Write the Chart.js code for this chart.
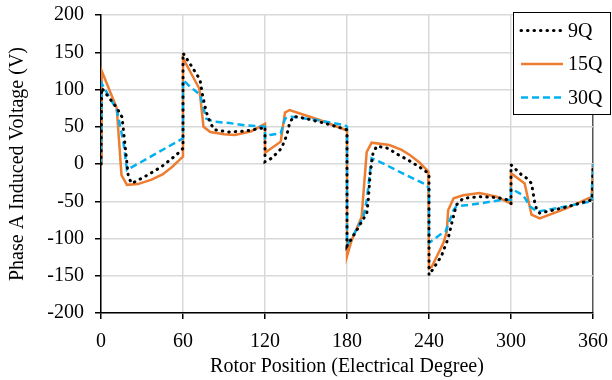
<!DOCTYPE html>
<html>
<head>
<meta charset="utf-8">
<script src="https://cdn.jsdelivr.net/npm/chart.js@4.4.0/dist/chart.umd.min.js"></script>
<style>
  html, body { margin: 0; padding: 0; background: #fff; }
</style>
</head>
<body>
<canvas id="chart" width="612" height="380"></canvas>
<script>
// axis ticks
const xTicks = [0, 60, 120, 180, 240, 300, 360];
const yTicks = [-200, -150, -100, -50, 0, 50, 100, 150, 200];

// 9Q
const angle9Q = [0, 0.5, 11.7, 15.4, 20, 22.4, 32, 44, 55, 60, 60, 66, 72.5, 74, 77, 80, 83, 93, 105, 117.5, 120,
  120, 125, 132, 136, 138, 141, 150, 165, 180, 180, 183.5, 194.5, 195.6, 197, 199, 201.7, 210, 216, 225, 233, 240,
  240, 244, 249, 254, 256.6, 260, 265, 277, 290, 297, 300, 300, 304, 308, 311.5, 315, 317.5, 319, 321, 340, 359.5, 360];
const volt9Q = [0, 102, 75, 63, -17, -26, -17, -4, 12, 21, 149, 132, 113, 95, 70, 55, 46, 43, 44, 48, 50,
  3, 8, 21, 39, 55, 64, 61, 54, 46, -110, -100, -66, -48, -12, 14, 24, 21, 14, 5, -4, -13,
  -149, -138, -124, -100, -80, -55, -46, -44, -45, -48, -53, -1, -8, -15, -19, -26, -53, -62, -66, -58, -48, 0];

// 15Q
const angle15Q = [0, 0.5, 11.5, 15, 19, 27, 37, 45, 52, 60, 60, 72, 75, 80, 90, 98, 110, 120,
  120, 131.5, 134.6, 138, 160, 180, 180, 183.5, 190.7, 194.4, 198, 211, 220, 226, 233, 239.5,
  240, 242, 250.5, 253, 254, 258, 265, 277, 289.5, 300, 300, 310, 315, 321, 340, 359, 360];
const volt15Q = [0, 125, 75, -15, -28, -27, -21, -14, -4, 10, 142, 101, 50, 43, 40, 39, 44, 54,
  15, 30, 69, 72.5, 59, 45, -124, -102, -71, 16, 28.6, 25.5, 19, 12, 2, -10,
  -140, -138, -106, -91, -62, -46, -42, -39, -44, -53, -12.5, -26, -68, -73, -60, -44, 0];

// 30Q
const angle30Q = [0, 0.5, 11.7, 16.5, 19, 60, 60, 65, 72.5, 77, 82, 94, 105, 120,
  120, 123.6, 131.5, 134.6, 139.5, 158, 178.5, 180, 180, 186, 192, 194.5, 198, 204, 220, 238, 240,
  240, 248, 252, 258, 260, 277, 294, 300, 300, 309, 314, 319, 340, 359, 360];
const volt30Q = [0, 108, 72, 28, -8, 34.5, 113, 104, 93, 61, 57, 55, 52, 50,
  35, 39, 41, 61, 63.5, 59, 52, 50, -109, -91, -71, -48, 7.6, 3, -12, -28, -33,
  -106, -95, -91, -62, -57, -53, -48, -48, -33, -42, -57, -64, -57, -50, 0];

function pts(xs, ys) {
  return xs.map((x, i) => ({ x: x, y: ys[i] }));
}

const FONT = "'Liberation Serif', 'Times New Roman', serif";

// legend drawn as a box overlapping the plot, top right
const legendBox = {
  id: "legendBox",
  afterDraw(chart) {
    const c = chart.ctx;
    c.save();
    c.fillStyle = "#fff";
    c.fillRect(513, 12, 98, 103);
    c.strokeStyle = "#000";
    c.lineWidth = 1;
    c.strokeRect(513.5, 12.5, 97, 102);
    chart.data.datasets.forEach((ds, i) => {
      const y = 30.5 + i * 33.5;
      c.beginPath();
      c.setLineDash(ds.borderDash || []);
      c.lineCap = ds.borderCapStyle || "butt";
      c.strokeStyle = ds.borderColor;
      c.lineWidth = ds.borderWidth;
      c.moveTo(521, y);
      c.lineTo(563, y);
      c.stroke();
      c.setLineDash([]);
      c.fillStyle = "#000";
      c.font = "20px " + FONT;
      c.textBaseline = "middle";
      c.textAlign = "left";
      c.fillText(ds.label, 568, y + 1);
    });
    c.restore();
  }
};

new Chart(document.getElementById("chart"), {
  type: "line",
  data: {
    datasets: [
      {
        label: "9Q",
        data: pts(angle9Q, volt9Q),
        borderColor: "#000",
        borderWidth: 3,
        borderDash: [0.5, 6],
        borderCapStyle: "round",
        order: 0
      },
      {
        label: "15Q",
        data: pts(angle15Q, volt15Q),
        borderColor: "#ED7D31",
        borderWidth: 2.5,
        order: 2
      },
      {
        label: "30Q",
        data: pts(angle30Q, volt30Q),
        borderColor: "#00B0F0",
        borderWidth: 2.5,
        borderDash: [7, 4],
        order: 1
      }
    ]
  },
  options: {
    responsive: false,
    animation: false,
    elements: { point: { radius: 0 }, line: { tension: 0 } },
    layout: { padding: { top: 15, right: 19, left: 0, bottom: 0 } },
    plugins: { legend: { display: false }, tooltip: { enabled: false } },
    scales: {
      x: {
        type: "linear",
        min: 0,
        max: 360,
        afterBuildTicks: s => { s.ticks = xTicks.map(v => ({ value: v })); },
        afterFit: s => { s.height = 67; s.paddingLeft = 0; s.paddingRight = 0; },
        grid: {
          color: c => (c.tick && c.tick.value === 360 ? "#555" : "#d9d9d9"),
          lineWidth: 1.5,
          tickColor: "#000",
          tickLength: 6
        },
        border: { color: "#000", width: 1.5 },
        ticks: { color: "#000", font: { family: FONT, size: 20 }, padding: 11, maxRotation: 0 },
        title: {
          display: true,
          text: "Rotor Position (Electrical Degree)",
          color: "#000",
          font: { family: FONT, size: 20 },
          padding: { top: 0, bottom: 1 }
        }
      },
      y: {
        min: -200,
        max: 200,
        afterBuildTicks: s => { s.ticks = yTicks.map(v => ({ value: v })); },
        afterFit: s => { s.width = 101; s.paddingTop = 0; s.paddingBottom = 0; },
        grid: { color: "#d9d9d9", lineWidth: 1.5, tickColor: "#000", tickLength: 6 },
        border: { color: "#000", width: 1.5 },
        ticks: { color: "#000", font: { family: FONT, size: 20 }, padding: 11 },
        title: {
          display: true,
          text: "Phase A Induced Voltage (V)",
          color: "#000",
          font: { family: FONT, size: 20 },
          padding: { top: 6, bottom: 0 }
        }
      }
    }
  },
  plugins: [legendBox]
});
</script>
</body>
</html>
